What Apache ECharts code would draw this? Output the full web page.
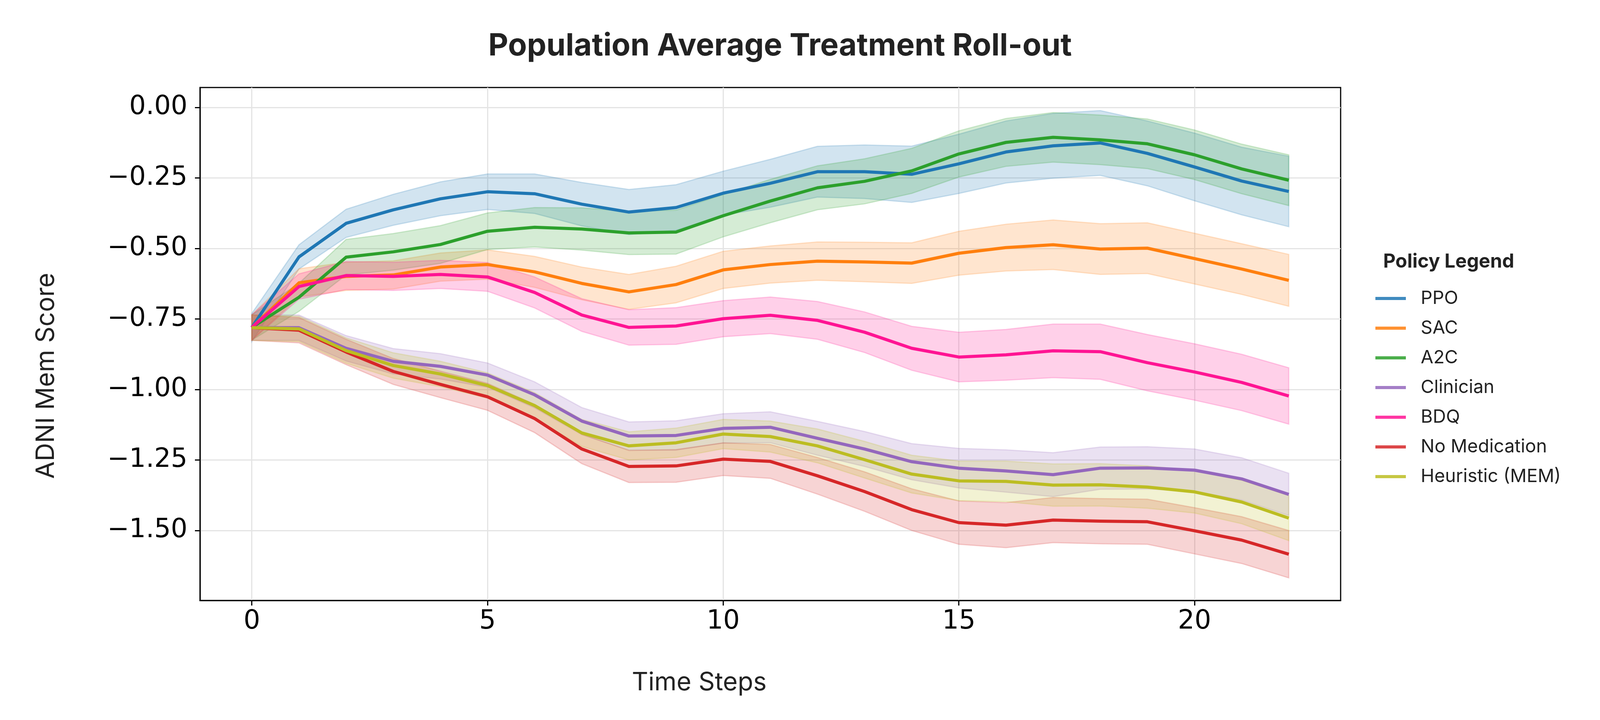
<!DOCTYPE html>
<html><head><meta charset="utf-8">
<script src="https://cdn.jsdelivr.net/npm/echarts@6/dist/echarts.min.js"></script>
<style>html,body{margin:0;padding:0;background:#fff}#c{width:4223px;height:1843px}</style>
</head><body><div id="c"></div>
<script>
// ---- data ----
const timeSteps = [0,1,2,3,4,5,6,7,8,9,10,11,12,13,14,15,16,17,18,19,20,21,22];
const xTicks = [0,5,10,15,20];
const yTicks = [-1.5,-1.25,-1.0,-0.75,-0.5,-0.25,0];
const policyNames = ['PPO','SAC','A2C','Clinician','BDQ','No Medication','Heuristic (MEM)'];

const ppoMean = [-0.780,-0.530,-0.411,-0.363,-0.324,-0.299,-0.306,-0.343,-0.371,-0.355,-0.304,-0.269,-0.228,-0.228,-0.237,-0.200,-0.158,-0.136,-0.126,-0.163,-0.211,-0.261,-0.298];
const ppoCI   = [0.050,0.043,0.050,0.055,0.060,0.063,0.070,0.077,0.080,0.081,0.078,0.085,0.090,0.095,0.100,0.105,0.110,0.115,0.115,0.115,0.120,0.120,0.125];

const sacMean = [-0.780,-0.622,-0.599,-0.594,-0.566,-0.557,-0.583,-0.624,-0.654,-0.628,-0.576,-0.557,-0.545,-0.548,-0.552,-0.517,-0.497,-0.487,-0.502,-0.499,-0.536,-0.573,-0.613];
const sacCI   = [0.045,0.050,0.050,0.050,0.050,0.052,0.055,0.058,0.062,0.065,0.066,0.066,0.068,0.070,0.072,0.078,0.083,0.088,0.090,0.090,0.090,0.090,0.092];

const a2cMean = [-0.780,-0.673,-0.531,-0.512,-0.486,-0.439,-0.425,-0.431,-0.445,-0.442,-0.384,-0.332,-0.285,-0.262,-0.225,-0.165,-0.124,-0.106,-0.115,-0.129,-0.168,-0.218,-0.258];
const a2cCI   = [0.045,0.050,0.063,0.065,0.067,0.065,0.070,0.075,0.077,0.078,0.075,0.077,0.078,0.080,0.080,0.082,0.085,0.088,0.088,0.088,0.088,0.088,0.090];

const clinMean = [-0.781,-0.781,-0.854,-0.900,-0.918,-0.949,-1.019,-1.112,-1.165,-1.163,-1.138,-1.134,-1.173,-1.211,-1.256,-1.279,-1.289,-1.302,-1.279,-1.278,-1.286,-1.317,-1.372];
const clinCI   = [0.045,0.045,0.045,0.045,0.045,0.043,0.046,0.048,0.050,0.052,0.052,0.055,0.060,0.062,0.064,0.070,0.075,0.078,0.075,0.075,0.075,0.075,0.075];

const bdqMean = [-0.780,-0.635,-0.596,-0.599,-0.592,-0.601,-0.656,-0.736,-0.780,-0.775,-0.749,-0.737,-0.755,-0.797,-0.854,-0.885,-0.877,-0.863,-0.866,-0.905,-0.938,-0.975,-1.023];
const bdqCI   = [0.045,0.045,0.050,0.050,0.050,0.051,0.055,0.058,0.063,0.065,0.064,0.065,0.067,0.072,0.078,0.088,0.090,0.095,0.098,0.100,0.100,0.100,0.100];

const noMedMean = [-0.781,-0.790,-0.867,-0.936,-0.982,-1.026,-1.103,-1.211,-1.273,-1.271,-1.247,-1.255,-1.306,-1.362,-1.426,-1.472,-1.481,-1.463,-1.467,-1.469,-1.501,-1.534,-1.584];
const noMedCI   = [0.045,0.045,0.045,0.046,0.047,0.048,0.050,0.052,0.057,0.058,0.058,0.060,0.065,0.070,0.074,0.077,0.080,0.080,0.080,0.080,0.082,0.083,0.084];

const heurMean = [-0.781,-0.785,-0.862,-0.915,-0.945,-0.986,-1.057,-1.154,-1.200,-1.189,-1.158,-1.167,-1.200,-1.249,-1.300,-1.324,-1.326,-1.339,-1.338,-1.346,-1.363,-1.399,-1.456];
const heurCI   = [0.045,0.045,0.045,0.045,0.045,0.045,0.046,0.048,0.050,0.052,0.052,0.055,0.060,0.065,0.067,0.070,0.072,0.075,0.075,0.075,0.075,0.077,0.080];

// ---- styles ----
const policyColors = ['#1f77b4','#ff7f0e','#2ca02c','#9467bd','#ff1493','#d62728','#bcbd22'];
const means = [ppoMean, sacMean, a2cMean, clinMean, bdqMean, noMedMean, heurMean];
const cis = [ppoCI, sacCI, a2cCI, clinCI, bdqCI, noMedCI, heurCI];

function rgba(hex, a) {
  const n = parseInt(hex.slice(1), 16);
  return 'rgba(' + ((n >> 16) & 255) + ',' + ((n >> 8) & 255) + ',' + (n & 255) + ',' + a + ')';
}

function bandRenderer(mean, ci, color) {
  return function (params, api) {
    if (params.dataIndex !== 0) return null;
    const upper = [], lower = [];
    for (let i = 0; i < timeSteps.length; i++) {
      upper.push(api.coord([timeSteps[i], mean[i] + ci[i]]));
      lower.push(api.coord([timeSteps[i], mean[i] - ci[i]]));
    }
    return {
      type: 'polygon',
      silent: true,
      shape: { points: upper.concat(lower.reverse()) },
      style: { fill: rgba(color, 0.2), stroke: rgba(color, 0.2), lineWidth: 3 }
    };
  };
}

const series = [];
policyNames.forEach((name, k) => {
  series.push({
    name: name + ' band',
    type: 'custom',
    coordinateSystem: 'cartesian2d',
    clip: true,
    z: 1,
    encode: { x: 0, y: [1, 2] },
    data: timeSteps.map((t, i) => [t, means[k][i] - cis[k][i], means[k][i] + cis[k][i]]),
    renderItem: bandRenderer(means[k], cis[k], policyColors[k])
  });
});
policyNames.forEach((name, k) => {
  series.push({
    name: name,
    type: 'line',
    z: 3,
    showSymbol: false,
    symbol: 'none',
    color: policyColors[k],
    lineStyle: { width: 8, color: policyColors[k], join: 'round' },
    data: timeSteps.map((t, i) => [t, means[k][i]])
  });
});

const fmtY = v => (v < 0 ? '\u2212' : '') + Math.abs(v).toFixed(2);

const chart = echarts.init(document.getElementById('c'), null, { renderer: 'canvas', width: 4223, height: 1843 });
chart.setOption({
  backgroundColor: '#ffffff',
  animation: false,
  title: [
    { text: 'Population Average Treatment Roll-out', left: 1250, top: 79, padding: 0,
      textStyle: { fontFamily: 'Inter', fontWeight: 'bold', fontSize: 79, color: '#222222' } },
    { text: 'Policy Legend', left: 3541, top: 646, padding: 0,
      textStyle: { fontFamily: 'Inter', fontWeight: 'bold', fontSize: 49, color: '#222222' } }
  ],
  legend: {
    orient: 'vertical', left: 3521, top: 739, padding: 0,
    itemWidth: 78, itemHeight: 8, itemGap: 26, icon: 'rect',
    selectedMode: false,
    data: policyNames,
    itemStyle: { opacity: 0.85 },
    textStyle: { fontFamily: 'Inter', fontSize: 47, color: '#222222', lineHeight: 50, padding: [0, 0, 0, 33] }
  },
  grid: { left: 512, right: 791, top: 224, bottom: 306, show: true, borderColor: '#000', borderWidth: 3,
          backgroundColor: 'transparent', containLabel: false, outerBoundsMode: 'none' },
  xAxis: {
    type: 'value', min: -1.1, max: 23.1,
    axisLine: { show: true, onZero: false, lineStyle: { color: '#000', width: 3 } },
    axisTick: { show: true, length: 13, customValues: xTicks, lineStyle: { color: '#000', width: 3 } },
    axisLabel: { customValues: xTicks, margin: 21, fontFamily: 'DejaVu Sans', fontSize: 67, color: '#000' },
    splitLine: { show: true, lineStyle: { color: '#e4e4e4', width: 3 } }
  },
  yAxis: {
    type: 'value', min: -1.748, max: 0.0706,
    axisLine: { show: true, onZero: false, lineStyle: { color: '#000', width: 3 } },
    axisTick: { show: true, length: 13, customValues: yTicks, lineStyle: { color: '#000', width: 3 } },
    axisLabel: { customValues: yTicks, margin: 32, fontFamily: 'DejaVu Sans', fontSize: 67, color: '#000', formatter: fmtY },
    splitLine: { show: true, lineStyle: { color: '#e4e4e4', width: 3 } }
  },
  graphic: [
    { type: 'text', x: 118, y: 962, rotation: Math.PI / 2, silent: true,
      style: { text: 'ADNI Mem Score', fill: '#222222', fontFamily: 'Inter', fontSize: 65, align: 'center', verticalAlign: 'middle' } },
    { type: 'text', x: 1790, y: 1747, silent: true,
      style: { text: 'Time Steps', fill: '#222222', fontFamily: 'Inter', fontSize: 65, align: 'center', verticalAlign: 'middle' } }
  ],
  series: series
});
</script></body></html>
